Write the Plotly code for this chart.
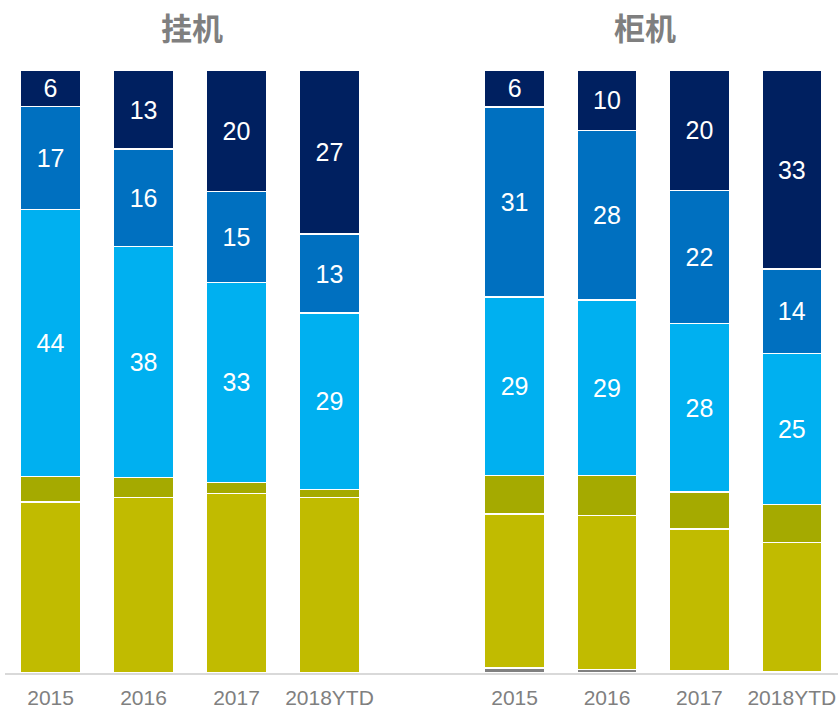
import plotly.graph_objects as go

categories = ["2015", "2016", "2017", "2018YTD"]

# 挂机 (wall-mounted)
wall_navy = [6, 13, 20, 27]
wall_mblue = [17, 16, 15, 13]
wall_lblue = [44, 38, 33, 29]
wall_olive = [4.2, 3.3, 1.8, 1.3]
wall_yellow = [28.2, 28.9, 29.6, 28.9]
wall_gray = [0, 0, 0, 0]

# 柜机 (floor-standing)
floor_navy = [6, 10, 20, 33]
floor_mblue = [31, 28, 22, 14]
floor_lblue = [29, 29, 28, 25]
floor_olive = [6.3, 6.6, 6.1, 6.3]
floor_yellow = [25.1, 25.4, 23.6, 21.4]
floor_gray = [0.8, 0.6, 0.3, 0.2]

titles = ["挂机", "柜机"]

colors = {
    "gray": "#808080",
    "yellow": "#C1BB00",
    "olive": "#A5AA00",
    "lblue": "#00B0F0",
    "mblue": "#0070C0",
    "navy": "#002060",
}

fig = go.Figure()

def add_stack(xaxis, yaxis, gray, yellow, olive, lblue, mblue, navy):
    series = [
        ("gray", gray, False),
        ("yellow", yellow, False),
        ("olive", olive, False),
        ("lblue", lblue, True),
        ("mblue", mblue, True),
        ("navy", navy, True),
    ]
    for key, vals, labeled in series:
        fig.add_trace(go.Bar(
            x=categories,
            y=vals,
            name=key,
            xaxis=xaxis,
            yaxis=yaxis,
            marker=dict(color=colors[key], line=dict(color="white", width=1.5)),
            text=[str(v) for v in vals] if labeled else None,
            textposition="inside" if labeled else "none",
            insidetextanchor="middle",
            textangle=0,
            textfont=dict(color="white", size=25, family="Liberation Sans, Arial, sans-serif"),
            showlegend=False,
            hoverinfo="x+y+name",
        ))

add_stack("x", "y", wall_gray, wall_yellow, wall_olive, wall_lblue, wall_mblue, wall_navy)
add_stack("x2", "y2", floor_gray, floor_yellow, floor_olive, floor_lblue, floor_mblue, floor_navy)

W, H = 838, 710
axis_common = dict(
    type="category",
    showline=True,
    linecolor="#D9D9D9",
    linewidth=2,
    showgrid=False,
    zeroline=False,
    ticks="",
    tickfont=dict(color="#808080", size=21, family="Liberation Sans, Arial, sans-serif"),
    ticklabelstandoff=5,
)
yaxis_common = dict(
    range=[0, 100],
    visible=False,
    showgrid=False,
    zeroline=False,
)

top, bottom = 70, 37
plot_h = H - top - bottom

def title_y(pix_from_top):
    return (H - pix_from_top - bottom) / plot_h

title_font = dict(size=31, color="#7F7F7F", family="Noto Sans CJK SC")
fig.update_layout(
    width=W,
    height=H,
    barmode="stack",
    barnorm="percent",
    bargap=0.35,
    plot_bgcolor="white",
    paper_bgcolor="white",
    margin=dict(l=0, r=0, t=top, b=bottom),
    xaxis=dict(domain=[5 / W, 376 / W], range=[-0.49, 3.5], anchor="y", **axis_common),
    xaxis2=dict(domain=[376 / W, 1.0], range=[-1.5, 3.5], anchor="y2", **axis_common),
    yaxis=dict(domain=[0, 1], anchor="x", **yaxis_common),
    yaxis2=dict(domain=[0, 1], anchor="x2", **yaxis_common),
    annotations=[
        dict(text="<b>%s</b>" % titles[0], x=192 / W, y=title_y(27), xref="paper", yref="paper",
             yanchor="middle", xanchor="center", showarrow=False,
             font=title_font),
        dict(text="<b>%s</b>" % titles[1], x=645 / W, y=title_y(27), xref="paper", yref="paper",
             yanchor="middle", xanchor="center", showarrow=False,
             font=title_font),
    ],
)

fig.write_html(
    "out.html",
    config={"displayModeBar": False},
    post_script="document.body.style.margin='0';document.body.style.overflow='hidden';",
)
